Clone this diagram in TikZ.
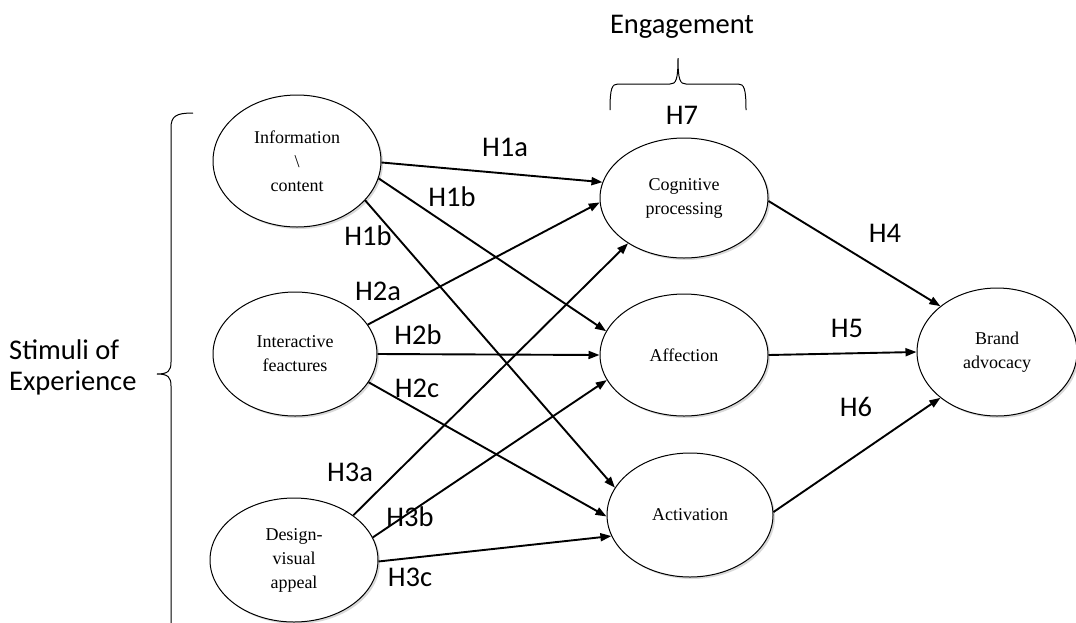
\documentclass[tikz,border=0pt]{standalone}
\usepackage{fontspec}
\setmainfont{Liberation Serif}
\newfontfamily\hypfont{Carlito}
\usetikzlibrary{arrows.meta,shapes.geometric,shadows}

\begin{document}
\begin{tikzpicture}[x=1pt,y=-1pt,
  construct/.style={draw, ellipse, line width=1pt, fill=white, inner sep=0pt, align=center,
    font=\fontsize{18}{24}\selectfont,
    drop shadow={shadow xshift=2pt, shadow yshift=-2pt, opacity=0.3}},
  hyp/.style={line width=1.9pt, -{Triangle[length=11pt,width=8pt]}},
  hlabel/.style={font=\hypfont\fontsize{28.5}{31}\selectfont, inner sep=0pt}]
  \useasboundingbox (0,0) rectangle (1076,622);
  \clip (0,0) rectangle (1076,622);

  % Stimuli of experience
  \node[construct, minimum width=168pt, minimum height=132pt] (info) at (297,161) {Information\\ \textbackslash\\ content};
  \node[construct, minimum width=164pt, minimum height=124pt] (inter) at (295,354) {Interactive\\ feactures};
  \node[construct, minimum width=168pt, minimum height=124pt] (design) at (294,560) {Design-\\ visual\\ appeal};

  % Engagement
  \node[construct, minimum width=168pt, minimum height=120pt] (cog) at (684,198) {Cognitive\\ processing};
  \node[construct, minimum width=168pt, minimum height=122pt] (aff) at (684,355) {Affection};
  \node[construct, minimum width=166pt, minimum height=124pt] (act) at (690,515) {Activation};

  \node[construct, minimum width=160pt, minimum height=128pt] (brand) at (997,352) {Brand\\ advocacy};

  \draw[hyp] (info.-1) -- (cog.169);
  \draw[hyp] (info.-12) -- (aff.163);
  \draw[hyp] (info.-30) -- (act.160);
  \draw[hyp] (inter.22) -- (cog.183);
  \draw[hyp] (inter.0) -- (aff.180);
  \draw[hyp] (inter.-21) -- (act.181);
  \draw[hyp] (design.37) -- (cog.219);
  \draw[hyp] (design.16) -- (aff.198);
  \draw[hyp] (design.-1) -- (act.195);
  \draw[hyp] (cog.-2) -- (brand.141);
  \draw[hyp] (aff.0) -- (brand.180);
  \draw[hyp] (act.2) -- (brand.219);

  % Hypotheses
  \node[hlabel] (h1a) at (505,147) {H1a};
  \node[hlabel] (h1b) at (452,197) {H1b};
  \node[hlabel] (h1bb) at (368,236) {H1b};
  \node[hlabel] (h2a) at (378,291) {H2a};
  \node[hlabel] (h2b) at (418,335) {H2b};
  \node[hlabel] (h2c) at (417,388) {H2c};
  \node[hlabel] (h3a) at (350,472) {H3a};
  \node[hlabel] (h3b) at (410,517) {H3b};
  \node[hlabel] (h3c) at (410,577) {H3c};
  \node[hlabel] (h4) at (885,233) {H4};
  \node[hlabel] (h5) at (847,328) {H5};
  \node[hlabel] (h6) at (856,407) {H6};
  \node[hlabel] (h7) at (682,115) {H7};

  % Braces
  \node[hlabel] (engage) at (682,27) {Engagement};
  \draw[line width=1pt] (610,110) .. controls (610,88) and (612,84) .. (618,84) -- (670,84)
    .. controls (676,84) and (678,80) .. (678,58) .. controls (678,80) and (680,84) .. (686,84)
    -- (738,84) .. controls (744,84) and (746,88) .. (746,110);
  \node[hlabel, align=left, anchor=west] (stimuli) at (9,367) {Stimuli of\\Experience};
  \draw[line width=1pt] (193,113) .. controls (176,113) and (171,116) .. (171,128) -- (171,362)
    .. controls (171,371) and (168,374) .. (157,374) .. controls (168,374) and (171,377) .. (171,386)
    -- (171,640);
\end{tikzpicture}
\end{document}
